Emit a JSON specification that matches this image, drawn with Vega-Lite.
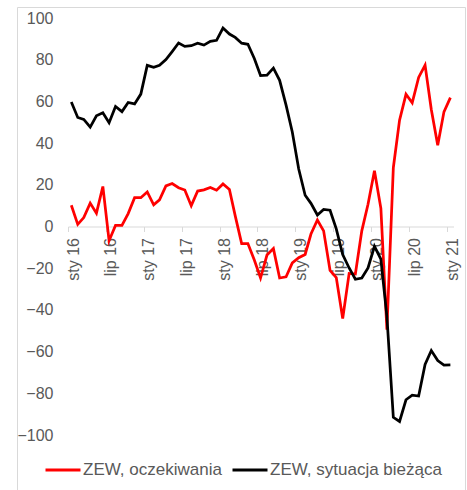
{
  "$schema": "https://vega.github.io/schema/vega-lite/v6.json",
  "width": 448,
  "height": 485,
  "autosize": {"type": "none"},
  "padding": {"left": 17, "top": 7, "right": 2, "bottom": 0},
  "background": "white",
  "config": {"view": {"stroke": "#D9D9D9", "strokeWidth": 1}, "font": "Liberation Sans"},
  "data": {"values": [
    {"date": "2016-01-01", "ZEW, oczekiwania": 10.2, "ZEW, sytuacja bieżąca": 59.7},
    {"date": "2016-02-01", "ZEW, oczekiwania": 1.0, "ZEW, sytuacja bieżąca": 52.3},
    {"date": "2016-03-01", "ZEW, oczekiwania": 4.3, "ZEW, sytuacja bieżąca": 51.4},
    {"date": "2016-04-01", "ZEW, oczekiwania": 11.2, "ZEW, sytuacja bieżąca": 47.7},
    {"date": "2016-05-01", "ZEW, oczekiwania": 6.4, "ZEW, sytuacja bieżąca": 53.1},
    {"date": "2016-06-01", "ZEW, oczekiwania": 19.2, "ZEW, sytuacja bieżąca": 54.5},
    {"date": "2016-07-01", "ZEW, oczekiwania": -6.8, "ZEW, sytuacja bieżąca": 49.8},
    {"date": "2016-08-01", "ZEW, oczekiwania": 0.5, "ZEW, sytuacja bieżąca": 57.6},
    {"date": "2016-09-01", "ZEW, oczekiwania": 0.5, "ZEW, sytuacja bieżąca": 55.1},
    {"date": "2016-10-01", "ZEW, oczekiwania": 6.2, "ZEW, sytuacja bieżąca": 59.5},
    {"date": "2016-11-01", "ZEW, oczekiwania": 13.8, "ZEW, sytuacja bieżąca": 58.8},
    {"date": "2016-12-01", "ZEW, oczekiwania": 13.8, "ZEW, sytuacja bieżąca": 63.5},
    {"date": "2017-01-01", "ZEW, oczekiwania": 16.6, "ZEW, sytuacja bieżąca": 77.3},
    {"date": "2017-02-01", "ZEW, oczekiwania": 10.4, "ZEW, sytuacja bieżąca": 76.4},
    {"date": "2017-03-01", "ZEW, oczekiwania": 12.8, "ZEW, sytuacja bieżąca": 77.3},
    {"date": "2017-04-01", "ZEW, oczekiwania": 19.5, "ZEW, sytuacja bieżąca": 80.1},
    {"date": "2017-05-01", "ZEW, oczekiwania": 20.6, "ZEW, sytuacja bieżąca": 83.9},
    {"date": "2017-06-01", "ZEW, oczekiwania": 18.6, "ZEW, sytuacja bieżąca": 88.0},
    {"date": "2017-07-01", "ZEW, oczekiwania": 17.5, "ZEW, sytuacja bieżąca": 86.4},
    {"date": "2017-08-01", "ZEW, oczekiwania": 10.0, "ZEW, sytuacja bieżąca": 86.7},
    {"date": "2017-09-01", "ZEW, oczekiwania": 17.0, "ZEW, sytuacja bieżąca": 87.9},
    {"date": "2017-10-01", "ZEW, oczekiwania": 17.6, "ZEW, sytuacja bieżąca": 87.0},
    {"date": "2017-11-01", "ZEW, oczekiwania": 18.7, "ZEW, sytuacja bieżąca": 88.8},
    {"date": "2017-12-01", "ZEW, oczekiwania": 17.4, "ZEW, sytuacja bieżąca": 89.3},
    {"date": "2018-01-01", "ZEW, oczekiwania": 20.4, "ZEW, sytuacja bieżąca": 95.2},
    {"date": "2018-02-01", "ZEW, oczekiwania": 17.8, "ZEW, sytuacja bieżąca": 92.3},
    {"date": "2018-03-01", "ZEW, oczekiwania": 5.1, "ZEW, sytuacja bieżąca": 90.7},
    {"date": "2018-04-01", "ZEW, oczekiwania": -8.2, "ZEW, sytuacja bieżąca": 87.9},
    {"date": "2018-05-01", "ZEW, oczekiwania": -8.2, "ZEW, sytuacja bieżąca": 87.4},
    {"date": "2018-06-01", "ZEW, oczekiwania": -16.1, "ZEW, sytuacja bieżąca": 80.6},
    {"date": "2018-07-01", "ZEW, oczekiwania": -24.7, "ZEW, sytuacja bieżąca": 72.4},
    {"date": "2018-08-01", "ZEW, oczekiwania": -13.7, "ZEW, sytuacja bieżąca": 72.6},
    {"date": "2018-09-01", "ZEW, oczekiwania": -10.6, "ZEW, sytuacja bieżąca": 76.0},
    {"date": "2018-10-01", "ZEW, oczekiwania": -24.7, "ZEW, sytuacja bieżąca": 70.1},
    {"date": "2018-11-01", "ZEW, oczekiwania": -24.1, "ZEW, sytuacja bieżąca": 58.2},
    {"date": "2018-12-01", "ZEW, oczekiwania": -17.5, "ZEW, sytuacja bieżąca": 45.3},
    {"date": "2019-01-01", "ZEW, oczekiwania": -15.0, "ZEW, sytuacja bieżąca": 27.6},
    {"date": "2019-02-01", "ZEW, oczekiwania": -13.4, "ZEW, sytuacja bieżąca": 15.0},
    {"date": "2019-03-01", "ZEW, oczekiwania": -3.6, "ZEW, sytuacja bieżąca": 11.1},
    {"date": "2019-04-01", "ZEW, oczekiwania": 3.1, "ZEW, sytuacja bieżąca": 5.5},
    {"date": "2019-05-01", "ZEW, oczekiwania": -2.1, "ZEW, sytuacja bieżąca": 8.2},
    {"date": "2019-06-01", "ZEW, oczekiwania": -21.1, "ZEW, sytuacja bieżąca": 7.8},
    {"date": "2019-07-01", "ZEW, oczekiwania": -24.5, "ZEW, sytuacja bieżąca": -1.1},
    {"date": "2019-08-01", "ZEW, oczekiwania": -44.1, "ZEW, sytuacja bieżąca": -13.5},
    {"date": "2019-09-01", "ZEW, oczekiwania": -22.5, "ZEW, sytuacja bieżąca": -19.9},
    {"date": "2019-10-01", "ZEW, oczekiwania": -22.8, "ZEW, sytuacja bieżąca": -25.3},
    {"date": "2019-11-01", "ZEW, oczekiwania": -2.1, "ZEW, sytuacja bieżąca": -24.7},
    {"date": "2019-12-01", "ZEW, oczekiwania": 10.7, "ZEW, sytuacja bieżąca": -19.9},
    {"date": "2020-01-01", "ZEW, oczekiwania": 26.7, "ZEW, sytuacja bieżąca": -9.5},
    {"date": "2020-02-01", "ZEW, oczekiwania": 8.7, "ZEW, sytuacja bieżąca": -15.7},
    {"date": "2020-03-01", "ZEW, oczekiwania": -49.5, "ZEW, sytuacja bieżąca": -43.1},
    {"date": "2020-04-01", "ZEW, oczekiwania": 28.2, "ZEW, sytuacja bieżąca": -91.5},
    {"date": "2020-05-01", "ZEW, oczekiwania": 51.0, "ZEW, sytuacja bieżąca": -93.5},
    {"date": "2020-06-01", "ZEW, oczekiwania": 63.4, "ZEW, sytuacja bieżąca": -83.1},
    {"date": "2020-07-01", "ZEW, oczekiwania": 59.3, "ZEW, sytuacja bieżąca": -80.9},
    {"date": "2020-08-01", "ZEW, oczekiwania": 71.5, "ZEW, sytuacja bieżąca": -81.3},
    {"date": "2020-09-01", "ZEW, oczekiwania": 77.4, "ZEW, sytuacja bieżąca": -66.2},
    {"date": "2020-10-01", "ZEW, oczekiwania": 56.1, "ZEW, sytuacja bieżąca": -59.5},
    {"date": "2020-11-01", "ZEW, oczekiwania": 39.0, "ZEW, sytuacja bieżąca": -64.3},
    {"date": "2020-12-01", "ZEW, oczekiwania": 55.0, "ZEW, sytuacja bieżąca": -66.5},
    {"date": "2021-01-01", "ZEW, oczekiwania": 61.8, "ZEW, sytuacja bieżąca": -66.4}
  ]},
  "transform": [{"fold": ["ZEW, oczekiwania", "ZEW, sytuacja bieżąca"], "as": ["series", "value"]}],
  "mark": {"type": "line", "strokeWidth": 2.75},
  "encoding": {
    "x": {
      "field": "date", "type": "temporal",
      "scale": {"type": "utc",
        "domain": [{"year": 2015, "month": 12, "date": 16, "utc": true}, {"year": 2021, "month": 1, "date": 16, "utc": true}],
        "range": [51, 436.5]},
      "axis": {
        "orient": "bottom", "offset": -265.5, "title": null, "grid": false,
        "values": [
          {"year": 2015, "month": 12, "date": 16, "utc": true},
          {"year": 2016, "month": 6, "date": 16, "utc": true},
          {"year": 2016, "month": 12, "date": 16, "utc": true},
          {"year": 2017, "month": 6, "date": 16, "utc": true},
          {"year": 2017, "month": 12, "date": 16, "utc": true},
          {"year": 2018, "month": 6, "date": 16, "utc": true},
          {"year": 2018, "month": 12, "date": 16, "utc": true},
          {"year": 2019, "month": 6, "date": 16, "utc": true},
          {"year": 2019, "month": 12, "date": 16, "utc": true},
          {"year": 2020, "month": 6, "date": 16, "utc": true},
          {"year": 2020, "month": 12, "date": 16, "utc": true}
        ],
        "labelExpr": "utcmonth(datum.value) == 11 ? 'sty ' + (utcyear(datum.value) - 1999) : 'lip ' + (utcyear(datum.value) - 2000)",
        "labelAngle": -90, "labelOffset": 5, "labelPadding": 6,
        "labelFontSize": 16, "labelColor": "#595959", "labelFlush": false, "labelOverlap": false,
        "domainColor": "#D9D9D9", "domainWidth": 1, "tickColor": "#D9D9D9", "tickSize": 5, "tickWidth": 1
      }
    },
    "y": {
      "field": "value", "type": "quantitative",
      "scale": {"domain": [-100, 100], "range": [428, 11], "nice": false, "zero": false},
      "axis": {
        "values": [-100, -80, -60, -40, -20, 0, 20, 40, 60, 80, 100],
        "offset": -40, "domain": false, "ticks": false, "grid": false, "title": null,
        "labelFontSize": 16, "labelColor": "#595959", "labelPadding": 4
      }
    },
    "color": {
      "field": "series", "type": "nominal",
      "scale": {"domain": ["ZEW, oczekiwania", "ZEW, sytuacja bieżąca"], "range": ["#FF0000", "#000000"]},
      "legend": {
        "orient": "none", "legendX": 27, "legendY": 444, "direction": "horizontal", "title": null,
        "symbolType": "stroke", "symbolStrokeWidth": 3, "symbolSize": 1225,
        "labelFontSize": 17, "labelColor": "#595959", "labelOffset": 1, "columnPadding": 4,
        "padding": 0, "labelLimit": 300
      }
    }
  }
}
